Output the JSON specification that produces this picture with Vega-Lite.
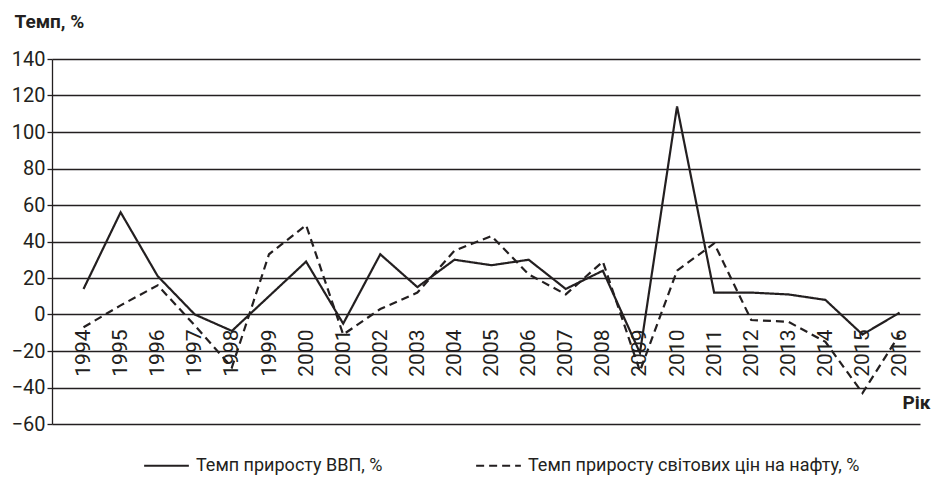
{
  "$schema": "https://vega.github.io/schema/vega-lite/v6.json",
  "width": 868,
  "height": 365,
  "autosize": "none",
  "padding": {"left": 52, "top": 59, "right": 16, "bottom": 55},
  "background": "white",
  "config": {
    "view": {"stroke": null},
    "font": "Roboto",
    "axis": {"labelColor": "#231f20", "titleColor": "#231f20", "labelFont": "Roboto", "titleFont": "Roboto"},
    "legend": {"labelFont": "Roboto"}
  },
  "data": {
    "values": [
      {"year": 1994, "series": "Темп приросту ВВП, %", "value": 14},
      {"year": 1995, "series": "Темп приросту ВВП, %", "value": 56},
      {"year": 1996, "series": "Темп приросту ВВП, %", "value": 21},
      {"year": 1997, "series": "Темп приросту ВВП, %", "value": 0},
      {"year": 1998, "series": "Темп приросту ВВП, %", "value": -9},
      {"year": 1999, "series": "Темп приросту ВВП, %", "value": 10},
      {"year": 2000, "series": "Темп приросту ВВП, %", "value": 29},
      {"year": 2001, "series": "Темп приросту ВВП, %", "value": -5},
      {"year": 2002, "series": "Темп приросту ВВП, %", "value": 33},
      {"year": 2003, "series": "Темп приросту ВВП, %", "value": 15},
      {"year": 2004, "series": "Темп приросту ВВП, %", "value": 30},
      {"year": 2005, "series": "Темп приросту ВВП, %", "value": 27},
      {"year": 2006, "series": "Темп приросту ВВП, %", "value": 30},
      {"year": 2007, "series": "Темп приросту ВВП, %", "value": 14},
      {"year": 2008, "series": "Темп приросту ВВП, %", "value": 24},
      {"year": 2009, "series": "Темп приросту ВВП, %", "value": -21},
      {"year": 2010, "series": "Темп приросту ВВП, %", "value": 114},
      {"year": 2011, "series": "Темп приросту ВВП, %", "value": 12},
      {"year": 2012, "series": "Темп приросту ВВП, %", "value": 12},
      {"year": 2013, "series": "Темп приросту ВВП, %", "value": 11},
      {"year": 2014, "series": "Темп приросту ВВП, %", "value": 8},
      {"year": 2015, "series": "Темп приросту ВВП, %", "value": -11},
      {"year": 2016, "series": "Темп приросту ВВП, %", "value": 1},
      {"year": 1994, "series": "Темп приросту світових цін на нафту, %", "value": -7},
      {"year": 1995, "series": "Темп приросту світових цін на нафту, %", "value": 5},
      {"year": 1996, "series": "Темп приросту світових цін на нафту, %", "value": 16},
      {"year": 1997, "series": "Темп приросту світових цін на нафту, %", "value": -6},
      {"year": 1998, "series": "Темп приросту світових цін на нафту, %", "value": -29},
      {"year": 1999, "series": "Темп приросту світових цін на нафту, %", "value": 33},
      {"year": 2000, "series": "Темп приросту світових цін на нафту, %", "value": 49},
      {"year": 2001, "series": "Темп приросту світових цін на нафту, %", "value": -11},
      {"year": 2002, "series": "Темп приросту світових цін на нафту, %", "value": 3},
      {"year": 2003, "series": "Темп приросту світових цін на нафту, %", "value": 12},
      {"year": 2004, "series": "Темп приросту світових цін на нафту, %", "value": 35},
      {"year": 2005, "series": "Темп приросту світових цін на нафту, %", "value": 43},
      {"year": 2006, "series": "Темп приросту світових цін на нафту, %", "value": 22},
      {"year": 2007, "series": "Темп приросту світових цін на нафту, %", "value": 11},
      {"year": 2008, "series": "Темп приросту світових цін на нафту, %", "value": 29},
      {"year": 2009, "series": "Темп приросту світових цін на нафту, %", "value": -31},
      {"year": 2010, "series": "Темп приросту світових цін на нафту, %", "value": 24},
      {"year": 2011, "series": "Темп приросту світових цін на нафту, %", "value": 39},
      {"year": 2012, "series": "Темп приросту світових цін на нафту, %", "value": -3},
      {"year": 2013, "series": "Темп приросту світових цін на нафту, %", "value": -4},
      {"year": 2014, "series": "Темп приросту світових цін на нафту, %", "value": -15},
      {"year": 2015, "series": "Темп приросту світових цін на нафту, %", "value": -43},
      {"year": 2016, "series": "Темп приросту світових цін на нафту, %", "value": -11}
    ]
  },
  "mark": {"type": "line", "color": "#231f20", "strokeWidth": 2.2},
  "encoding": {
    "x": {
      "field": "year",
      "type": "quantitative",
      "scale": {"domain": [1993.15, 2016.55], "nice": false, "zero": false},
      "axis": {
        "values": [1994,1995,1996,1997,1998,1999,2000,2001,2002,2003,2004,2005,2006,2007,2008,2009,2010,2011,2012,2013,2014,2015,2016],
        "format": "d",
        "labelAngle": -90,
        "labelAlign": "right",
        "labelBaseline": "middle",
        "labelFontSize": 21,
        "labelPadding": 0,
        "labelOverlap": false,
        "labelFlush": false,
        "ticks": false,
        "domain": false,
        "grid": false,
        "offset": -95,
        "title": "Рік",
        "titleFontSize": 19,
        "titleFontWeight": "bold",
        "titleAlign": "right",
        "titleAnchor": null,
        "titleBaseline": "alphabetic",
        "titleX": 878,
        "titleY": 79
      }
    },
    "y": {
      "field": "value",
      "type": "quantitative",
      "scale": {"domain": [-60, 140], "nice": false},
      "axis": {
        "values": [-60,-40,-20,0,20,40,60,80,100,120,140],
        "labelFontSize": 20,
        "labelPadding": 2,
        "tickSize": 5,
        "tickColor": "#231f20",
        "tickWidth": 1.3,
        "domainColor": "#231f20",
        "domainWidth": 1.3,
        "grid": true,
        "gridColor": "#231f20",
        "gridWidth": 1.3,
        "gridOpacity": 1,
        "title": "Темп, %",
        "titleAngle": 0,
        "titleFontSize": 19,
        "titleFontWeight": "bold",
        "titleAlign": "left",
        "titleAnchor": null,
        "titleBaseline": "alphabetic",
        "titleX": -38,
        "titleY": -32
      }
    },
    "strokeDash": {
      "field": "series",
      "type": "nominal",
      "scale": {
        "domain": ["Темп приросту ВВП, %", "Темп приросту світових цін на нафту, %"],
        "range": [[1, 0], [8, 5]]
      },
      "legend": {
        "title": null,
        "orient": "none",
        "direction": "horizontal",
        "legendX": 91,
        "legendY": 383,
        "symbolType": "stroke",
        "symbolSize": 2000,
        "symbolStrokeWidth": 2.2,
        "symbolStrokeColor": "#231f20",
        "labelFontSize": 18,
        "labelColor": "#231f20",
        "labelOffset": 6,
        "columnPadding": 88,
        "labelLimit": 500
      }
    }
  }
}
